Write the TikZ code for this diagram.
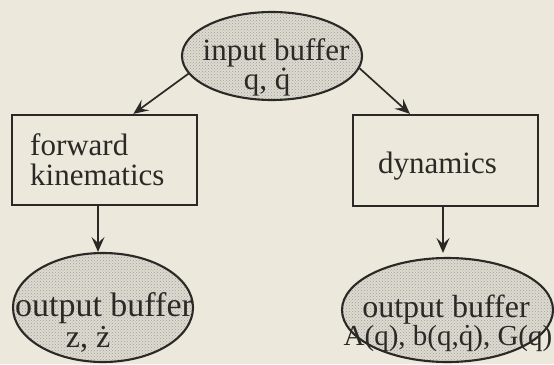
\documentclass[tikz,border=0pt]{standalone}
\usepackage{fontspec}
\setmainfont{Liberation Serif}
\usetikzlibrary{shapes.geometric,arrows.meta,calc,patterns}

\definecolor{paper}{HTML}{ECE8DC}
\definecolor{ink}{HTML}{2B2926}
\definecolor{shade}{HTML}{DEDAD0}

\newcommand\fsz[1]{\fontsize{#1}{#1}\selectfont}

\tikzset{
  buffer/.style={ellipse, draw=ink, line width=2.1pt, inner sep=0pt,
    preaction={fill=shade}, pattern=crosshatch dots, pattern color=ink!45},
  stage/.style={rectangle, draw=ink, line width=2.2pt, inner sep=0pt},
  txt/.style={inner sep=0pt, anchor=base, text=ink},
  flow/.style={draw=ink, line width=1.7pt,
    -{Stealth[length=15pt,width=13pt,inset=6pt]}},
}

\begin{document}
\begin{tikzpicture}[x=1pt,y=-1pt]
\useasboundingbox (0,0) rectangle (554,364);
\fill[paper] (0,0) rectangle (554,364);

% input buffer
\node[buffer, minimum width=180pt, minimum height=88pt] (in) at (272,56) {};
\node[txt, font=\fsz{31}] (inA) at (276,60) {input buffer};
\node[txt, font=\fsz{31}] (inB) at (267,89) {q, \.{q}};

% processing stages
\node[stage, minimum width=185pt, minimum height=90pt] (fk) at (104.5,160) {};
\node[txt, anchor=base west, font=\fsz{31}] (fkA) at (30,155) {forward};
\node[txt, anchor=base west, font=\fsz{31}] (fkB) at (30,185) {kinematics};

\node[stage, minimum width=185pt, minimum height=91pt] (dyn) at (445.5,160.5) {};
\node[txt, font=\fsz{31}] (dynA) at (437.5,173) {dynamics};

% output buffers
\node[buffer, minimum width=180pt, minimum height=109pt] (zout) at (103,307.5) {};
\node[txt, font=\fsz{34}] (zoutA) at (104,316) {output buffer};
\node[txt, font=\fsz{32}] (zoutB) at (88,347) {z, \.{z}};

\node[buffer, minimum width=211pt, minimum height=104pt] (mout) at (447.5,310) {};
\node[txt, font=\fsz{32}] (moutA) at (446,317) {output buffer};
\node[txt, font=\fsz{29}] (moutB) at (448,345) {A(q), b(q,\.{q}), G(q)};

% connectors
\coordinate (fkin) at ($(fk.north west)!0.654!(fk.north east)$);
\coordinate (dynin) at ($(dyn.north west)!0.31!(dyn.north east)$);
\coordinate (fkout) at ([xshift=-6.5pt]fk.south);
\coordinate (dynout) at ([xshift=-2.5pt]dyn.south);

\draw[flow] (in.192) -- (fkin);
\draw[flow] (in.352) -- (dynin);
\draw[flow] (fkout) -- (fkout |- zout.north);
\draw[flow, shorten >=4pt] (dynout) -- (dynout |- mout.north);
\end{tikzpicture}
\end{document}
